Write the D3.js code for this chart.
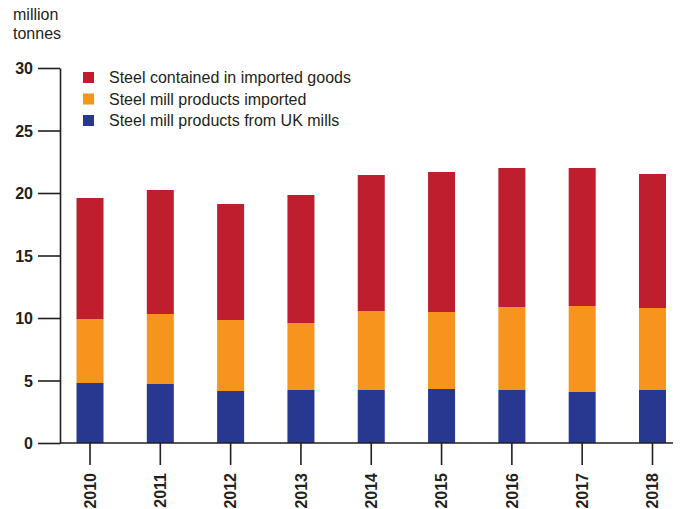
<!DOCTYPE html>
<html>
<head>
<meta charset="utf-8">
<script src="https://cdn.jsdelivr.net/npm/d3@7"></script>
<style>
  body { margin: 0; background: #fff; }
  svg text { font-family: "Liberation Sans", Arial, sans-serif; fill: #231f20; }
  .axis text { font-size: 16px; font-weight: bold; }
  .axis line, .axis path { stroke: #231f20; stroke-width: 1.6; }
  .legend text { font-size: 16px; }
</style>
</head>
<body>
<div id="container"></div>
<script>
// data
var years = ["2010", "2011", "2012", "2013", "2014", "2015", "2016", "2017", "2018"];
var ukMills = [4.8, 4.72, 4.16, 4.24, 4.24, 4.32, 4.24, 4.08, 4.24];
var millImported = [5.12, 5.6, 5.68, 5.36, 6.32, 6.16, 6.64, 6.88, 6.56];
var containedGoods = [9.68, 9.92, 9.28, 10.24, 10.88, 11.2, 11.12, 11.04, 10.72];
var yTicks = [0, 5, 10, 15, 20, 25, 30];

var keys = ["uk", "imported", "goods"];
var legendLabels = {
  goods: "Steel contained in imported goods",
  imported: "Steel mill products imported",
  uk: "Steel mill products from UK mills"
};
var colors = { uk: "#283891", imported: "#f7941d", goods: "#be1e2d" };

var rows = years.map(function(y, i) {
  return { year: y, uk: ukMills[i], imported: millImported[i], goods: containedGoods[i] };
});

var width = 682, height = 509;
var axisX = 60, baseY = 443, topY = 68, rightX = 673;

var svg = d3.select("#container")
  .append("svg")
    .attr("width", width)
    .attr("height", height);

var x = d3.scaleBand()
    .domain(years)
    .range([54.85, 687.65])
    .paddingInner(0.616)
    .paddingOuter(0.308);

var y = d3.scaleLinear()
    .domain([0, 30])
    .range([baseY, topY]);

// bars
svg.append("g")
  .selectAll("g")
  .data(d3.stack().keys(keys)(rows))
  .enter().append("g")
    .attr("fill", function(d) { return colors[d.key]; })
  .selectAll("rect")
  .data(function(d) { return d; })
  .enter().append("rect")
    .attr("x", function(d) { return x(d.data.year); })
    .attr("y", function(d) { return y(d[1]); })
    .attr("height", function(d) { return y(d[0]) - y(d[1]); })
    .attr("width", x.bandwidth());

// baseline
svg.append("line")
    .attr("x1", axisX).attr("x2", rightX)
    .attr("y1", y(0)).attr("y2", y(0))
    .attr("stroke", "#231f20")
    .attr("stroke-width", 1.6);

// y axis
svg.append("g")
    .attr("class", "axis")
    .attr("transform", "translate(" + axisX + ",0)")
    .call(d3.axisLeft(y).tickValues(yTicks).tickSize(22).tickSizeOuter(0).tickPadding(5))
    .call(function(g) { g.selectAll("text").attr("dy", "0.36em"); });

// x axis
svg.append("g")
    .attr("class", "axis")
    .attr("transform", "translate(0," + baseY + ")")
    .call(d3.axisBottom(x).tickSize(22).tickSizeOuter(0))
    .call(function(g) { g.select(".domain").remove(); })
    .selectAll("text")
      .style("text-anchor", "end")
      .attr("x", -30)
      .attr("y", 0)
      .attr("dx", 0)
      .attr("dy", "0.36em")
      .attr("transform", "rotate(-90)");

// unit label
svg.append("text")
    .attr("x", 13)
    .attr("y", 20)
    .style("font-size", "16px")
    .text("million");
svg.append("text")
    .attr("x", 13)
    .attr("y", 39)
    .style("font-size", "16px")
    .text("tonnes");

// legend
var legendKeys = ["goods", "imported", "uk"];
var legend = svg.append("g").attr("class", "legend");
legend.selectAll("rect")
  .data(legendKeys)
  .enter().append("rect")
    .attr("x", 83)
    .attr("y", function(d, i) { return 72 + i * 21.5; })
    .attr("width", 11)
    .attr("height", 11)
    .attr("fill", function(d) { return colors[d]; });
legend.selectAll("text")
  .data(legendKeys)
  .enter().append("text")
    .attr("x", 109)
    .attr("y", function(d, i) { return 77.5 + i * 21.5; })
    .attr("dy", "0.36em")
    .text(function(d) { return legendLabels[d]; });
</script>
</body>
</html>
